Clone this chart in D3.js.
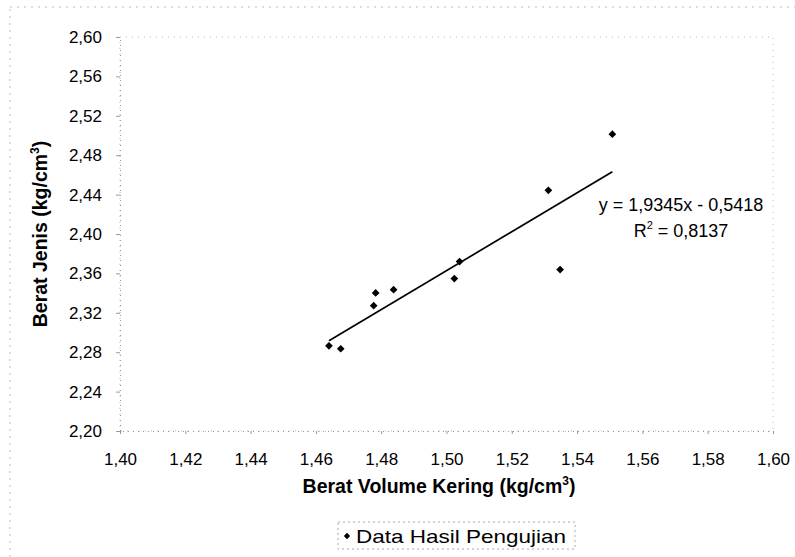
<!DOCTYPE html>
<html>
<head>
<meta charset="utf-8">
<script src="https://cdn.jsdelivr.net/npm/d3@7"></script>
<style>
  body { margin: 0; background: #fff; }
  svg { font-family: "Liberation Sans", Arial, sans-serif; }
  .tick text { font-size: 17px; fill: #000; }
</style>
</head>
<body>
<svg id="svg" width="795" height="557"></svg>
<script>
// Data
const beratVolume = [1.4640, 1.4676, 1.4777, 1.4783, 1.4838, 1.5040, 1.5024, 1.5312, 1.5348, 1.5508];
const beratJenis  = [2.2865, 2.2835, 2.3272, 2.3402, 2.3435, 2.3720, 2.3547, 2.4443, 2.3639, 2.5013];
const xTicks = [1.40, 1.42, 1.44, 1.46, 1.48, 1.50, 1.52, 1.54, 1.56, 1.58, 1.60];
const yTicks = [2.20, 2.24, 2.28, 2.32, 2.36, 2.40, 2.44, 2.48, 2.52, 2.56, 2.60];
const eqText = "y = 1,9345x - 0,5418";
const r2Value = "0,8137";
const legendLabel = "Data Hasil Pengujian";

const svg = d3.select("#svg");
const comma = d => d3.format(".2f")(d).replace(".", ",");

// plot area
const pLeft = 120, pRight = 773, pTop = 37, pBottom = 431;

const x = d3.scaleLinear().domain([1.40, 1.60]).range([pLeft, pRight]);
const y = d3.scaleLinear().domain([2.20, 2.60]).range([pBottom, pTop]);

// faint outer chart border (scanned look)
svg.append("rect")
    .attr("x", 10).attr("y", 7)
    .attr("width", 800).attr("height", 560)
    .attr("fill", "none")
    .attr("stroke", "#bbb")
    .attr("stroke-dasharray", "2,5");

// plot area border
svg.append("rect")
    .attr("x", pLeft).attr("y", pTop)
    .attr("width", pRight - pLeft).attr("height", pBottom - pTop)
    .attr("fill", "none")
    .attr("stroke", "#bbb")
    .attr("stroke-dasharray", "1,5");

// axes
const yAxis = svg.append("g")
    .attr("transform", `translate(${pLeft},0)`)
    .call(d3.axisLeft(y).tickValues(yTicks).tickFormat(comma).tickSize(4).tickPadding(14));
const xAxis = svg.append("g")
    .attr("transform", `translate(0,${pBottom})`)
    .call(d3.axisBottom(x).tickValues(xTicks).tickFormat(comma).tickSize(3).tickPadding(19));
[yAxis, xAxis].forEach(a => {
    a.select(".domain").attr("stroke", "#999").attr("stroke-dasharray", "1,4");
    a.selectAll(".tick line").attr("stroke", "#999");
});

// trend line (least squares on the points)
const mx = d3.mean(beratVolume), my = d3.mean(beratJenis);
const sxy = d3.sum(beratVolume, (v, i) => (v - mx) * (beratJenis[i] - my));
const sxx = d3.sum(beratVolume, v => (v - mx) * (v - mx));
const slope = sxy / sxx, icpt = my - slope * mx;
const xMin = d3.min(beratVolume), xMax = d3.max(beratVolume);
svg.append("line")
    .attr("x1", x(xMin)).attr("y1", y(slope * xMin + icpt))
    .attr("x2", x(xMax)).attr("y2", y(slope * xMax + icpt))
    .attr("stroke", "#000")
    .attr("stroke-width", 1.7);

// points
const diamond = d3.symbol().type(d3.symbolSquare).size(30);
svg.selectAll(".pt")
    .data(beratVolume.map((v, i) => [v, beratJenis[i]]))
    .join("path")
    .attr("class", "pt")
    .attr("d", diamond)
    .attr("transform", d => `translate(${x(d[0])},${y(d[1])}) rotate(45)`)
    .attr("fill", "#000");

// equation
svg.append("text")
    .attr("x", 681).attr("y", 211)
    .attr("text-anchor", "middle")
    .style("font-size", "18px")
    .text(eqText);
const r2 = svg.append("text")
    .attr("x", 681).attr("y", 237)
    .attr("text-anchor", "middle")
    .style("font-size", "18px");
r2.append("tspan").text("R");
r2.append("tspan").attr("dy", -8).style("font-size", "11px").text("2");
r2.append("tspan").attr("dy", 8).text(" = " + r2Value);

// axis titles
const xt = svg.append("text")
    .attr("x", 439).attr("y", 493)
    .attr("text-anchor", "middle")
    .style("font-size", "19.5px")
    .style("font-weight", "bold");
xt.append("tspan").text("Berat Volume Kering (kg/cm");
xt.append("tspan").attr("dy", -8).style("font-size", "12px").text("3");
xt.append("tspan").attr("dy", 8).text(")");

const yt = svg.append("text")
    .attr("transform", `translate(47,${(pTop + pBottom) / 2}) rotate(-90)`)
    .attr("text-anchor", "middle")
    .style("font-size", "19.5px")
    .style("font-weight", "bold");
yt.append("tspan").text("Berat Jenis (kg/cm");
yt.append("tspan").attr("dy", -8).style("font-size", "12px").text("3");
yt.append("tspan").attr("dy", 8).text(")");

// legend
svg.append("rect")
    .attr("x", 338).attr("y", 522)
    .attr("width", 237).attr("height", 27)
    .attr("fill", "none")
    .attr("stroke", "#aaa")
    .attr("stroke-dasharray", "2,3");
svg.append("path")
    .attr("d", d3.symbol().type(d3.symbolSquare).size(20))
    .attr("transform", "translate(347,536) rotate(45)")
    .attr("fill", "#000");
svg.append("text")
    .attr("x", 356).attr("y", 543)
    .attr("textLength", 210)
    .attr("lengthAdjust", "spacingAndGlyphs")
    .style("font-size", "19px")
    .text(legendLabel);
</script>
</body>
</html>
